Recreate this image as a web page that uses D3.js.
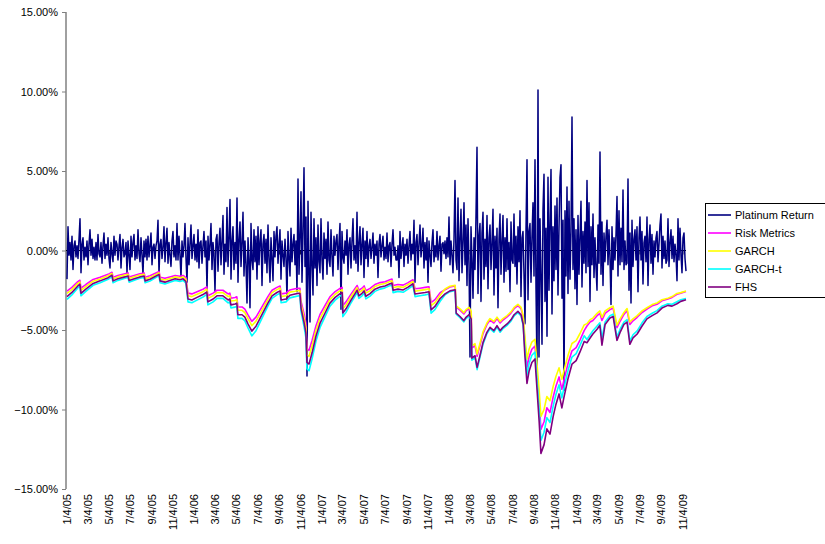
<!DOCTYPE html>
<html>
<head>
<meta charset="utf-8">
<script src="https://cdn.jsdelivr.net/npm/d3@7"></script>
<style>
  body { margin: 0; background: #fff; }
  svg { font-family: Arial, 'Liberation Sans', sans-serif; }
</style>
</head>
<body>
<svg width="825" height="544"></svg>
<script>
// daily platinum return (%), thinned, spread evenly from startDate to endDate
const startDate = '2005-01-03';
const endDate = '2009-11-13';

const platinumReturn = [
  -1.8, 1.5, -0.3, 0.5, -0.6, 0.9, -1.2, 0.3, 0.6, -0.4,
  0.3, -0.5, 0.7, 2.0, -1.4, 0.4, 0.8, -0.6, 0.2, -0.4,
  0.6, -0.9, 0.4, 1.3, -0.3, 0.7, -0.5, 0.2, -0.6, 0.5,
  -0.6, 1.0, -0.2, -0.4, 0.5, -0.8, 0.3, 1.1, -0.5, 0.4,
  -0.3, 0.8, -0.5, -1.1, 0.5, -0.2, -0.7, 0.9, -0.3, 0.6,
  0.4, -0.6, 0.3, 1.0, -1.1, 0.2, 0.7, -0.4, -0.2, 0.5,
  -1.4, 0.6, -0.3, -1.2, 0.9, -0.4, 0.5, 1.0, -0.6, 0.3,
  -0.5, 1.3, -0.2, -0.7, 0.8, -0.3, -1.5, 0.6, -0.4, 0.7,
  -0.6, 0.9, -0.4, 0.3, 1.1, -0.9, 0.2, 0.4, -0.5, 0.3,
  0.6, 1.9, -1.5, 0.4, 0.7, -0.5, 0.2, 1.5, -0.7, 0.5,
  1.4, -0.8, 0.5, -0.3, -1.0, 0.6, 1.2, -0.4, 0.3, -0.6,
  1.7, -0.6, 0.9, -0.3, -1.7, 0.6, -0.4, 0.3, 1.7, -0.5,
  -2.0, 0.8, -0.9, 0.4, 1.6, -0.5, 0.3, 1.0, -0.6, 0.4,
  -0.7, 1.3, -1.1, 0.5, 0.6, -0.8, 0.3, 1.2, -0.4, 0.6,
  -2.5, 0.9, -0.6, 0.4, 1.7, -1.2, 0.5, -0.3, -2.6, 0.7,
  1.0, -1.3, 0.5, 1.4, -0.9, 0.6, 2.2, -1.5, 0.4, -0.7,
  2.7, -1.0, 0.8, 3.2, -1.8, 0.6, 1.5, -1.2, 0.5, -0.8,
  3.3, -2.0, 0.7, 1.8, -1.0, 0.5, 2.4, -1.6, 0.6, -0.9,
  -3.3, 0.8, -0.5, -3.6, 1.7, -0.6, -1.2, 1.3, -0.7, 0.9,
  -1.8, 1.5, -0.9, 0.6, 1.3, -2.2, 0.4, 1.0, -0.8, 0.7,
  -1.4, 1.6, -0.6, -2.0, 0.8, -0.5, -1.9, 1.2, -0.4, 0.9,
  1.5, -0.8, 0.4, 1.3, -1.8, 0.6, -0.3, -1.0, 0.7, -0.5,
  -3.1, 1.2, -0.5, -1.6, 1.4, -0.7, 0.4, 1.0, -0.9, 0.6,
  -2.6, 4.5, -1.5, 0.8, 3.7, -2.0, 1.2, 5.2, -1.0, 2.1,
  -7.9, 3.1, -1.2, -4.5, 2.4, -0.9, -2.8, 2.0, -1.1, 0.8,
  -2.2, 1.6, -0.7, -1.4, 2.0, -0.6, -1.8, 1.1, -0.5, 0.7,
  -1.5, 1.8, -0.6, -1.0, 1.3, -0.4, -1.6, 0.9, -0.3, 0.6,
  1.0, -1.2, 0.5, 1.7, -3.7, 1.2, -0.4, -0.8, 0.6, -0.3,
  1.3, -1.5, 0.4, 0.8, -1.1, 0.6, 2.0, -0.6, 0.3, -0.8,
  2.4, -1.3, 0.5, 1.5, -0.9, 0.4, 1.4, -1.7, 0.6, -0.5,
  1.2, -1.0, 0.3, 0.7, -0.5, 0.2, 1.1, -0.8, 0.4, -0.3,
  0.6, -1.7, 0.4, 1.0, -0.4, 0.3, 0.9, -0.6, 0.2, -0.5,
  1.1, -0.7, 0.3, 0.5, -1.0, 0.4, 1.3, -0.3, 0.2, -0.6,
  -0.6, 0.3, -1.7, 1.2, -0.5, 0.2, 0.8, -1.0, 0.4, -0.3,
  0.7, -0.8, 0.3, 1.2, -0.6, 0.4, -0.2, 1.9, -2.0, 0.5,
  1.0, -0.9, 0.4, 1.6, -0.4, 0.3, 1.4, -1.1, 0.5, -0.6,
  0.8, -2.0, 0.6, -0.3, -1.0, 0.5, 1.3, -0.7, 0.3, -0.4,
  1.2, -0.6, 0.3, 0.9, -1.3, 0.4, 0.5, -0.2, 0.6, -0.5,
  0.8, -0.4, 2.1, -0.9, 0.6, -0.3, -1.4, 0.7, 4.4, -0.6,
  -1.2, 3.3, -1.9, 0.8, 2.6, -1.4, 0.5, 3.0, -0.9, 1.6,
  -2.2, 2.0, -0.8, -6.7, 1.5, -0.6, -3.0, 0.8, -1.2, 2.2,
  6.5, -2.7, 0.9, 1.7, -3.2, 1.1, 2.4, -1.8, 0.7, -1.0,
  2.2, -2.4, 0.8, 1.6, -1.2, 0.5, 2.6, -2.8, 0.9, -1.1,
  1.4, -3.6, 0.7, 2.3, -1.5, 0.6, 2.2, -2.0, 0.8, -1.3,
  2.0, -1.2, 0.5, -2.6, 1.8, -0.6, -0.8, 2.3, -1.0, 0.9,
  -2.1, 1.5, -0.7, 2.5, -2.9, 0.8, 1.2, -1.5, -4.6, 1.3,
  5.7, -3.1, 1.2, 1.7, -2.0, 0.9, 3.0, -1.6, 5.7, -2.4,
  -7.5, 10.1, -6.7, 2.0, -1.5, -5.9, 2.6, 4.8, -3.2, 1.4,
  -5.4, 4.6, -2.5, 1.8, 5.1, -4.0, 1.5, -1.9, 2.8, -1.2,
  3.3, -2.8, 1.4, 4.6, 5.4, -3.0, 1.9, -8.8, 2.5, -1.6,
  4.0, -2.7, 3.1, -1.8, 1.2, 8.4, -1.2, 2.0, -2.4, 1.3,
  -3.4, 2.2, -1.5, 0.9, 3.1, -2.3, 1.2, -0.8, 1.8, -1.4,
  4.4, -1.0, 3.0, -3.2, 1.5, -0.9, 2.3, -1.7, 0.8, -1.1,
  -2.5, 1.6, -0.8, 6.2, -1.5, 1.8, -2.2, 1.1, -0.7, 0.9,
  1.9, -0.9, 1.3, -0.5, -3.4, 1.5, -1.2, 0.8, -0.6, 1.0,
  3.4, -1.6, 2.5, -0.9, 1.4, -0.7, 3.8, -1.2, 0.6, -0.9,
  -0.8, 4.5, -2.5, 1.1, -3.3, 1.9, -1.0, 0.7, 1.3, -0.6,
  1.5, -2.6, 0.8, 2.1, -0.6, 1.2, -2.1, 0.5, 0.9, -0.7,
  2.1, -2.2, 0.7, 1.6, -0.8, 1.0, -1.5, 0.6, -0.4, 0.8,
  1.2, -0.7, 0.4, 1.6, 2.3, -1.1, 0.9, -0.5, 0.6, -0.8,
  -0.6, 2.0, -1.0, 0.5, 1.3, -0.5, 0.9, -0.7, 0.4, -0.3,
  -1.9, 2.0, -0.6, 1.4, -0.3, -1.4, 0.8, 1.1, -0.5, -1.3
];

// VaR estimates (%), sampled at these dates
const varDates = [
  '2005-01-03','2005-01-17','2005-02-03','2005-02-09','2005-02-12','2005-02-26','2005-03-19','2005-04-08',
  '2005-05-01','2005-05-12','2005-05-15','2005-05-29','2005-06-18','2005-06-27','2005-06-30','2005-07-17',
  '2005-07-31','2005-08-12','2005-08-15','2005-08-29','2005-09-18','2005-09-24','2005-09-27','2005-10-11',
  '2005-10-25','2005-11-09','2005-11-23','2005-12-02','2005-12-10','2005-12-16','2005-12-27','2006-01-11',
  '2006-01-28','2006-02-08','2006-02-11','2006-02-26','2006-03-09','2006-03-26','2006-04-10','2006-04-15',
  '2006-04-18','2006-04-30','2006-05-05','2006-05-08','2006-05-20','2006-05-28','2006-06-06','2006-06-17',
  '2006-06-29','2006-07-16','2006-08-02','2006-08-14','2006-08-28','2006-09-06','2006-09-09','2006-09-23',
  '2006-10-04','2006-10-19','2006-10-30','2006-11-02','2006-11-05','2006-11-14','2006-11-19','2006-11-22',
  '2006-11-28','2006-12-07','2006-12-18','2006-12-30','2007-01-13','2007-01-27','2007-02-11','2007-02-25',
  '2007-03-03','2007-03-05','2007-03-14','2007-03-26','2007-04-09','2007-04-15','2007-04-20','2007-04-29',
  '2007-05-05','2007-05-10','2007-05-22','2007-06-05','2007-06-20','2007-07-04','2007-07-18','2007-07-24',
  '2007-07-27','2007-08-10','2007-08-25','2007-09-08','2007-09-22','2007-09-28','2007-10-12','2007-10-27',
  '2007-11-07','2007-11-13','2007-11-24','2007-12-09','2007-12-23','2008-01-06','2008-01-21','2008-01-24',
  '2008-02-04','2008-02-15','2008-02-21','2008-03-01','2008-03-07','2008-03-09','2008-03-18','2008-03-24',
  '2008-04-01','2008-04-10','2008-04-21','2008-04-30','2008-05-11','2008-05-20','2008-05-29','2008-06-06',
  '2008-06-18','2008-06-29','2008-07-08','2008-07-19','2008-07-28','2008-08-03','2008-08-08','2008-08-14',
  '2008-08-20','2008-08-28','2008-09-06','2008-09-12','2008-09-18','2008-09-23','2008-10-02','2008-10-10',
  '2008-10-19','2008-10-28','2008-11-05','2008-11-14','2008-11-22','2008-11-28','2008-12-10','2008-12-21',
  '2009-01-02','2009-01-13','2009-01-25','2009-02-02','2009-02-11','2009-02-19','2009-03-03','2009-03-11',
  '2009-03-17','2009-03-26','2009-04-09','2009-04-18','2009-04-29','2009-05-08','2009-05-19','2009-05-28',
  '2009-06-05','2009-06-14','2009-06-26','2009-07-10','2009-07-24','2009-08-08','2009-08-22','2009-09-05',
  '2009-09-22','2009-10-04','2009-10-18','2009-10-29','2009-11-13'
];

const riskMetrics = [
  -2.55,-2.32,-1.96,-1.87,-2.37,-2.14,-1.82,-1.68, -1.50,-1.37,-1.68,-1.57,-1.46,-1.41,-1.66,-1.55,
  -1.46,-1.41,-1.68,-1.59,-1.38,-1.32,-1.68,-1.75, -1.66,-1.57,-1.62,-1.57,-1.71,-2.68,-2.73,-2.59,
  -2.44,-2.29,-2.84,-2.68,-2.50,-2.50,-2.73,-2.68, -3.00,-2.96,-2.91,-3.55,-3.55,-3.69,-4.05,-4.46,
  -4.19,-3.55,-2.91,-2.50,-2.32,-2.23,-2.73,-2.68, -2.48,-2.41,-2.37,-2.38,-3.19,-4.00,-4.55,-6.19,
  -6.28,-5.64,-4.73,-4.00,-3.46,-2.91,-2.59,-2.38, -2.32,-3.46,-3.23,-2.82,-2.38,-2.20,-2.50,-2.37,
  -2.23,-2.53,-2.38,-2.14,-2.02,-1.96,-1.84,-1.80, -2.20,-2.14,-2.18,-2.02,-1.84,-2.41,-2.37,-2.32,
  -2.28,-3.28,-3.09,-2.66,-2.47,-2.30,-2.23,-3.56, -3.75,-3.99,-3.80,-3.66,-3.90,-6.13,-5.99,-6.65,
  -5.99,-5.23,-4.66,-4.37,-4.56,-4.28,-4.56,-4.37, -4.18,-3.94,-3.66,-3.47,-3.66,-4.18,-5.82,-7.37,
  -6.69,-6.21,-6.01,-7.76,-9.51,-11.25,-10.77,-9.89, -10.19,-9.22,-8.54,-7.95,-8.73,-8.15,-7.08,-6.31,
  -6.11,-5.63,-5.04,-4.75,-4.50,-4.40,-4.10,-3.95, -4.40,-3.95,-3.72,-3.62,-4.85,-4.45,-4.02,-3.78,
  -4.65,-4.42,-4.20,-3.90,-3.68,-3.48,-3.38,-3.16, -3.05,-2.95,-2.75,-2.68,-2.58
];

const garch = [
  -2.70,-2.46,-2.07,-1.98,-2.51,-2.27,-1.93,-1.79, -1.59,-1.45,-1.79,-1.66,-1.54,-1.50,-1.76,-1.64,
  -1.54,-1.50,-1.79,-1.69,-1.47,-1.40,-1.79,-1.85, -1.76,-1.66,-1.72,-1.66,-1.81,-2.85,-2.90,-2.75,
  -2.59,-2.43,-3.01,-2.85,-2.65,-2.65,-2.90,-2.85, -3.18,-3.14,-3.09,-3.76,-3.76,-3.91,-4.29,-4.73,
  -4.44,-3.76,-3.09,-2.65,-2.46,-2.36,-2.90,-2.85, -2.62,-2.56,-2.51,-2.53,-3.38,-4.25,-4.83,-6.56,
  -6.66,-5.98,-5.02,-4.25,-3.67,-3.09,-2.75,-2.53, -2.46,-3.67,-3.43,-2.99,-2.53,-2.34,-2.65,-2.51,
  -2.36,-2.68,-2.53,-2.27,-2.14,-2.07,-1.95,-1.91, -2.34,-2.27,-2.32,-2.14,-1.95,-2.56,-2.51,-2.46,
  -2.41,-3.47,-3.28,-2.82,-2.42,-2.25,-2.19,-3.49, -3.67,-3.91,-3.72,-3.58,-3.81,-6.00,-5.86,-6.51,
  -5.86,-5.12,-4.56,-4.28,-4.46,-4.19,-4.46,-4.28, -4.09,-3.86,-3.58,-3.39,-3.58,-4.09,-5.40,-6.84,
  -6.21,-5.76,-5.58,-7.20,-8.82,-10.44,-9.99,-9.18, -9.45,-8.55,-7.92,-7.38,-8.10,-7.56,-6.57,-5.85,
  -5.67,-5.22,-4.68,-4.60,-4.35,-4.25,-3.95,-3.80, -4.20,-3.80,-3.60,-3.50,-4.70,-4.30,-3.90,-3.65,
  -4.50,-4.30,-4.10,-3.80,-3.60,-3.40,-3.30,-3.10, -3.00,-2.90,-2.70,-2.65,-2.55
];

const garchT = [
  -3.07,-2.79,-2.35,-2.24,-2.85,-2.57,-2.19,-2.03, -1.81,-1.64,-2.03,-1.88,-1.75,-1.70,-1.99,-1.86,
  -1.75,-1.70,-2.03,-1.92,-1.66,-1.59,-2.03,-2.10, -1.99,-1.88,-1.95,-1.88,-2.06,-3.23,-3.29,-3.12,
  -2.93,-2.76,-3.42,-3.23,-3.01,-3.01,-3.29,-3.23, -3.61,-3.56,-3.50,-4.27,-4.27,-4.43,-4.87,-5.37,
  -5.04,-4.27,-3.50,-3.01,-2.79,-2.68,-3.29,-3.23, -2.98,-2.90,-2.85,-2.87,-3.83,-4.82,-5.48,-7.45,
  -7.56,-6.79,-5.69,-4.82,-4.16,-3.50,-3.12,-2.87, -2.79,-4.16,-3.89,-3.39,-2.87,-2.65,-3.01,-2.85,
  -2.68,-3.04,-2.87,-2.57,-2.43,-2.35,-2.21,-2.17, -2.65,-2.57,-2.63,-2.43,-2.21,-2.90,-2.85,-2.79,
  -2.74,-3.94,-3.72,-3.20,-2.78,-2.59,-2.51,-4.01, -4.23,-4.49,-4.28,-4.12,-4.39,-6.90,-6.74,-7.49,
  -6.74,-5.89,-5.24,-4.92,-5.14,-4.82,-5.14,-4.92, -4.71,-4.44,-4.12,-3.91,-4.12,-4.71,-6.18,-7.83,
  -7.11,-6.59,-6.39,-8.24,-10.09,-11.95,-11.43,-10.51, -10.82,-9.79,-9.06,-8.45,-9.27,-8.65,-7.52,-6.70,
  -6.49,-5.97,-5.36,-5.60,-5.30,-5.05,-4.75,-4.55, -5.50,-4.50,-4.10,-4.00,-5.45,-4.95,-4.50,-4.35,
  -5.70,-5.30,-5.05,-4.55,-4.15,-3.95,-3.78,-3.50, -3.35,-3.38,-3.22,-3.10,-3.02
];

const fhs = [
  -2.90,-2.64,-2.23,-2.12,-2.69,-2.43,-2.07,-1.91, -1.71,-1.55,-1.91,-1.78,-1.66,-1.60,-1.88,-1.76,
  -1.66,-1.60,-1.91,-1.81,-1.57,-1.50,-1.91,-1.99, -1.88,-1.78,-1.84,-1.78,-1.95,-3.05,-3.11,-2.95,
  -2.77,-2.61,-3.23,-3.05,-2.85,-2.85,-3.11,-3.05, -3.42,-3.36,-3.31,-4.04,-4.04,-4.19,-4.61,-5.07,
  -4.76,-4.04,-3.31,-2.85,-2.64,-2.54,-3.11,-3.05, -2.82,-2.74,-2.69,-2.71,-3.62,-4.55,-5.18,-7.04,
  -7.14,-6.42,-5.38,-4.55,-3.93,-3.31,-2.95,-2.71, -2.64,-3.93,-3.67,-3.21,-2.71,-2.50,-2.85,-2.69,
  -2.54,-2.88,-2.71,-2.43,-2.30,-2.23,-2.09,-2.05, -2.50,-2.43,-2.48,-2.30,-2.09,-2.74,-2.69,-2.64,
  -2.59,-3.73,-3.52,-3.02,-2.73,-2.54,-2.47,-3.94, -4.15,-4.41,-4.20,-4.04,-4.31,-6.77,-6.62,-7.35,
  -6.62,-5.78,-5.15,-4.83,-5.04,-4.73,-5.04,-4.83, -4.62,-4.36,-4.04,-3.83,-4.04,-4.62,-6.60,-8.36,
  -7.59,-7.04,-6.82,-8.80,-10.78,-12.76,-12.21,-11.22, -11.55,-10.45,-9.68,-9.02,-9.90,-9.24,-8.03,-7.15,
  -6.93,-6.38,-5.72,-5.80,-5.50,-5.25,-4.95,-4.70, -5.95,-4.65,-4.25,-4.15,-5.65,-5.15,-4.65,-4.50,
  -5.90,-5.50,-5.25,-4.75,-4.30,-4.10,-3.92,-3.62, -3.45,-3.50,-3.35,-3.20,-3.10
];

const yTicks = [-15, -10, -5, 0, 5, 10, 15];

const xTickLabels = [
  '1/4/05','3/4/05','5/4/05','7/4/05','9/4/05','11/4/05',
  '1/4/06','3/4/06','5/4/06','7/4/06','9/4/06','11/4/06',
  '1/4/07','3/4/07','5/4/07','7/4/07','9/4/07','11/4/07',
  '1/4/08','3/4/08','5/4/08','7/4/08','9/4/08','11/4/08',
  '1/4/09','3/4/09','5/4/09','7/4/09','9/4/09','11/4/09'
];

(function (d3) {
  'use strict';

  const svg = d3.select('svg');
  const plot = { left: 67, right: 686, top: 12, bottom: 489 };

  const parseDay = d3.timeParse('%Y-%m-%d');
  const parseLabel = d3.timeParse('%m/%d/%y');
  const t0 = parseDay(startDate);
  const t1 = parseDay(endDate);

  const xScale = d3.scaleTime()
    .domain([t0, t1])
    .range([plot.left, plot.right]);

  const yScale = d3.scaleLinear()
    .domain([-15, 15])
    .range([plot.bottom, plot.top]);

  // y axis
  const yAxis = d3.axisLeft(yScale)
    .tickValues(yTicks)
    .tickSize(4)
    .tickPadding(4)
    .tickFormat(d => d3.format('.2f')(d) + '%');

  const yAxisG = svg.append('g')
    .attr('transform', 'translate(66,0)')
    .call(yAxis);
  yAxisG.select('.domain')
    .attr('stroke', '#808080')
    .attr('stroke-width', 1.5)
    .attr('d', `M0,${plot.top}V${plot.bottom}`);
  yAxisG.selectAll('.tick line').attr('stroke', '#808080');
  yAxisG.selectAll('.tick text')
    .attr('font-size', 11)
    .attr('font-family', 'Arial, Liberation Sans, sans-serif')
    .attr('fill', '#000');

  // horizontal axis through zero, labels at the bottom
  const tickDates = xTickLabels.map(parseLabel);
  const y0 = yScale(0);

  svg.append('line')
    .attr('x1', 66).attr('x2', plot.right)
    .attr('y1', y0).attr('y2', y0)
    .attr('stroke', '#000')
    .attr('stroke-width', 1);

  svg.append('g').selectAll('line')
    .data(tickDates)
    .enter().append('line')
      .attr('x1', d => xScale(d)).attr('x2', d => xScale(d))
      .attr('y1', y0).attr('y2', y0 + 4)
      .attr('stroke', '#000');

  svg.append('g').selectAll('text')
    .data(xTickLabels)
    .enter().append('text')
      .attr('transform', (d, i) => `translate(${xScale(tickDates[i])},${plot.bottom + 5}) rotate(-90)`)
      .attr('text-anchor', 'end')
      .attr('dy', '0.35em')
      .attr('font-size', 11)
      .attr('fill', '#000')
      .text(d => d);

  // series
  const span = (+t1 - +t0) / (platinumReturn.length - 1);
  const returnData = platinumReturn.map((v, i) => ({ date: new Date(+t0 + i * span), value: v }));

  const line = d3.line()
    .x(d => xScale(d.date))
    .y(d => yScale(d.value));

  const varDays = varDates.map(parseDay);
  const toSeries = values => values.map((v, i) => ({ date: varDays[i], value: v }));

  const series = [
    { name: 'Platinum Return', color: '#000080', width: 1.5, data: returnData },
    { name: 'Risk Metrics', color: '#FF00FF', width: 1.6, data: toSeries(riskMetrics) },
    { name: 'GARCH', color: '#FFFF00', width: 1.6, data: toSeries(garch) },
    { name: 'GARCH-t', color: '#00FFFF', width: 1.6, data: toSeries(garchT) },
    { name: 'FHS', color: '#800080', width: 1.6, data: toSeries(fhs) }
  ];

  svg.append('g').selectAll('path')
    .data(series)
    .enter().append('path')
      .attr('fill', 'none')
      .attr('stroke', d => d.color)
      .attr('stroke-width', d => d.width)
      .attr('stroke-linejoin', 'round')
      .attr('d', d => line(d.data));

  // legend
  const legendG = svg.append('g');
  legendG.append('rect')
    .attr('x', 705.5).attr('y', 203.5)
    .attr('width', 125).attr('height', 94)
    .attr('fill', '#fff')
    .attr('stroke', '#000');

  const item = legendG.selectAll('.legend')
    .data(series)
    .enter().append('g')
      .attr('class', 'legend')
      .attr('transform', (d, i) => `translate(708, ${215 + i * 18})`);

  item.append('line')
    .attr('x1', 0).attr('x2', 23)
    .attr('stroke', d => d.color)
    .attr('stroke-width', 1.6);

  item.append('text')
    .attr('x', 27)
    .attr('dy', '0.35em')
    .attr('font-size', 11)
    .attr('fill', '#000')
    .text(d => d.name);

}(d3));
</script>
</body>
</html>
